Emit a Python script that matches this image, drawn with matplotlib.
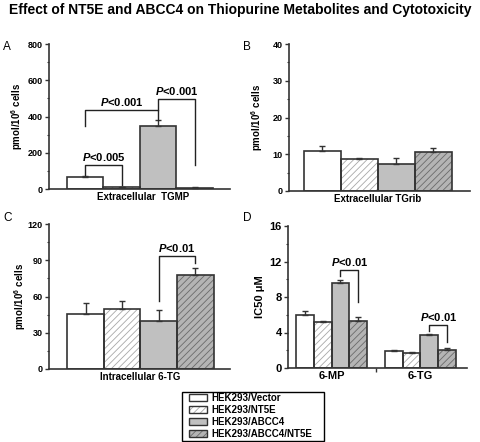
import matplotlib
matplotlib.use("Agg")
import matplotlib.pyplot as plt
from matplotlib.patches import Patch, Rectangle
from matplotlib.ticker import MultipleLocator

plt.rcParams["font.family"] = ["Liberation Sans", "DejaVu Sans"]
plt.rcParams["font.weight"] = "bold"
plt.rcParams["axes.labelweight"] = "bold"
plt.rcParams["mathtext.fontset"] = "custom"
plt.rcParams["mathtext.rm"] = "Liberation Sans:bold"
plt.rcParams["mathtext.it"] = "Liberation Sans:italic:bold"
plt.rcParams["mathtext.bf"] = "Liberation Sans:bold"
plt.rcParams["hatch.linewidth"] = 0.6

# cell lines (legend order)
groups = ["HEK293/Vector", "HEK293/NT5E", "HEK293/ABCC4", "HEK293/ABCC4/NT5E"]
fills = ["white", "white", "#c0c0c0", "#b4b4b4"]
hatches = [None, "/////", None, "/////"]
hatch_colors = ["white", "#a8a8a8", "#c0c0c0", "#6a6a6a"]
EDGE = "#333333"

# A: extracellular TGMP (pmol/10^6 cells)
tgmp_mean = [64, 10, 347, 8]
tgmp_err = [9, 3, 31, 2]
# B: extracellular TGrib
tgrib_mean = [11.0, 8.6, 7.3, 10.6]
tgrib_err = [1.3, 0.4, 1.6, 1.2]
# C: intracellular 6-TG
tgi_mean = [45.3, 50.0, 40.1, 77.7]
tgi_err = [9.0, 6.4, 8.9, 6.1]
# D: IC50 (uM)
drugs = ["6-MP", "6-TG"]
ic50_mp_mean = [6.0, 5.17, 9.58, 5.25]
ic50_mp_err = [0.4, 0.13, 0.38, 0.55]
ic50_tg_mean = [1.96, 1.66, 3.7, 2.08]
ic50_tg_err = [0.11, 0.14, 0.15, 0.22]

# significance brackets: (bar i, bar j, height, left foot, right foot, text)
brackets_a = [(0, 1, 134, 75, 20, "$P$<0.005"),
              (0, 2, 437, 345, 382, "$P$<0.001"),
              (2, 3, 497, 437, 134, "$P$<0.001")]
brackets_c = [(2, 3, 93.2, 55.9, 87.7, "$P$<0.01")]
brackets_d = [(2, 3, 11.0, 10.4, 7.4, "$P$<0.01"),
              (7, 8, 4.87, 4.2, 2.9, "$P$<0.01")]

W, H = 480, 442


def px_axes(fig, x0, x1, ytop, ybot):
    return fig.add_axes([x0 / W, 1 - ybot / H, (x1 - x0) / W, (ybot - ytop) / H])


def draw_bars(ax, xs, means, errs):
    for k, (x, m, e) in enumerate(zip(xs, means, errs)):
        ax.bar(x, m, width=1, color=fills[k], hatch=hatches[k],
               edgecolor=hatch_colors[k], linewidth=0, zorder=2)
        ax.bar(x, m, width=1, fill=False, edgecolor=EDGE, linewidth=1.2, zorder=3)
        ax.errorbar(x, m, yerr=[[0], [e]], fmt="none", ecolor=EDGE,
                    elinewidth=1, capsize=2.5, capthick=1, zorder=4)


def draw_brackets(ax, brackets, fontsize):
    for i, j, y, yl, yr, txt in brackets:
        ax.plot([i, i, j, j], [yl, y, y, yr], color="#222222", lw=1, zorder=5)
        ax.annotate(txt, xy=((i + j) / 2, y), xytext=(0, 1.5),
                    textcoords="offset points", ha="center", va="bottom",
                    fontsize=fontsize)


def setup(ax, ymax, major, xlim, ylabel, ticksize, labelsize, labelx):
    ax.set_ylim(0, ymax)
    ax.set_xlim(*xlim)
    ax.yaxis.set_major_locator(MultipleLocator(major))
    ax.yaxis.set_minor_locator(MultipleLocator(major / 2))
    for s in ["top", "right"]:
        ax.spines[s].set_visible(False)
    for s in ["left", "bottom"]:
        ax.spines[s].set_linewidth(1.2)
        ax.spines[s].set_color(EDGE)
    ax.tick_params(axis="y", which="major", direction="out", length=3,
                   width=1, labelsize=ticksize, pad=1.5, color=EDGE)
    ax.tick_params(axis="y", which="minor", direction="out", length=1.5,
                   width=0.8, color=EDGE)
    ax.tick_params(axis="x", length=0, labelsize=7, pad=2)
    ax.set_ylabel(ylabel, fontsize=labelsize)
    ax.yaxis.set_label_coords(labelx, 0.5)


fig = plt.figure(figsize=(4.8, 4.42), dpi=100)
xs = [0, 1, 2, 3]
ylab = "pmol/10$^6$ cells"

ax_a = px_axes(fig, 49, 230, 44, 189)
draw_bars(ax_a, xs, tgmp_mean, tgmp_err)
setup(ax_a, 800, 200, (-0.99, 3.97), ylab, 6.5, 7, -0.133)
draw_brackets(ax_a, brackets_a, 8)
ax_a.set_xticks([1.6])
ax_a.set_xticklabels(["Extracellular  TGMP"])

ax_b = px_axes(fig, 289, 470, 44, 191)
draw_bars(ax_b, xs, tgrib_mean, tgrib_err)
setup(ax_b, 40, 10, (-0.9, 3.99), ylab, 6.5, 7, -0.133)
ax_b.set_xticks([1.5])
ax_b.set_xticklabels(["Extracellular TGrib"])

ax_c = px_axes(fig, 49, 230, 224, 369)
draw_bars(ax_c, xs, tgi_mean, tgi_err)
setup(ax_c, 120, 30, (-1.0, 3.95), ylab, 6.5, 7, -0.116)
draw_brackets(ax_c, brackets_c, 8)
ax_c.set_xticks([1.5])
ax_c.set_xticklabels(["Intracellular 6-TG"])

ax_d = px_axes(fig, 288, 467, 226, 368)
draw_bars(ax_d, [0, 1, 2, 3], ic50_mp_mean, ic50_mp_err)
draw_bars(ax_d, [5, 6, 7, 8], ic50_tg_mean, ic50_tg_err)
setup(ax_d, 16, 4, (-0.95, 9.12), "IC50 \u03bcM", 8, 8, -0.128)
draw_brackets(ax_d, brackets_d, 8)
ax_d.set_xticks([1.5, 6.5])
ax_d.set_xticklabels(drugs, fontsize=8)
ax_d.set_xticks([4], minor=True)
ax_d.tick_params(axis="x", which="minor", length=3, width=1, color=EDGE)

fig.text(0.5, 1 - 10 / H, "Effect of NT5E and ABCC4 on Thiopurine Metabolites and Cytotoxicity",
         ha="center", va="center", fontsize=10, fontweight="bold")
for letter, x, y in [("A", 3, 47), ("B", 243, 47), ("C", 3, 218), ("D", 243, 218)]:
    fig.text(x / W, 1 - y / H, letter, fontsize=8.5, fontweight="normal", va="center")

handles = []
for k in range(4):
    base = Patch(facecolor=fills[k], hatch=hatches[k], edgecolor=hatch_colors[k], linewidth=0)
    outline = Patch(fill=False, edgecolor=EDGE, linewidth=1)
    handles.append((base, outline))
leg = fig.legend(handles, groups, loc="upper left", bbox_to_anchor=(189 / W, 1 - 393 / H),
                 fontsize=7, frameon=False, handlelength=1.9, handleheight=0.75,
                 borderpad=0, labelspacing=0.2, handletextpad=0.35, borderaxespad=0)
fig.patches.append(Rectangle((182 / W, 1 - 441 / H), 142 / W, 49 / H, fill=False,
                             edgecolor="black", linewidth=1, transform=fig.transFigure))

fig.savefig("out.png", dpi=100)
